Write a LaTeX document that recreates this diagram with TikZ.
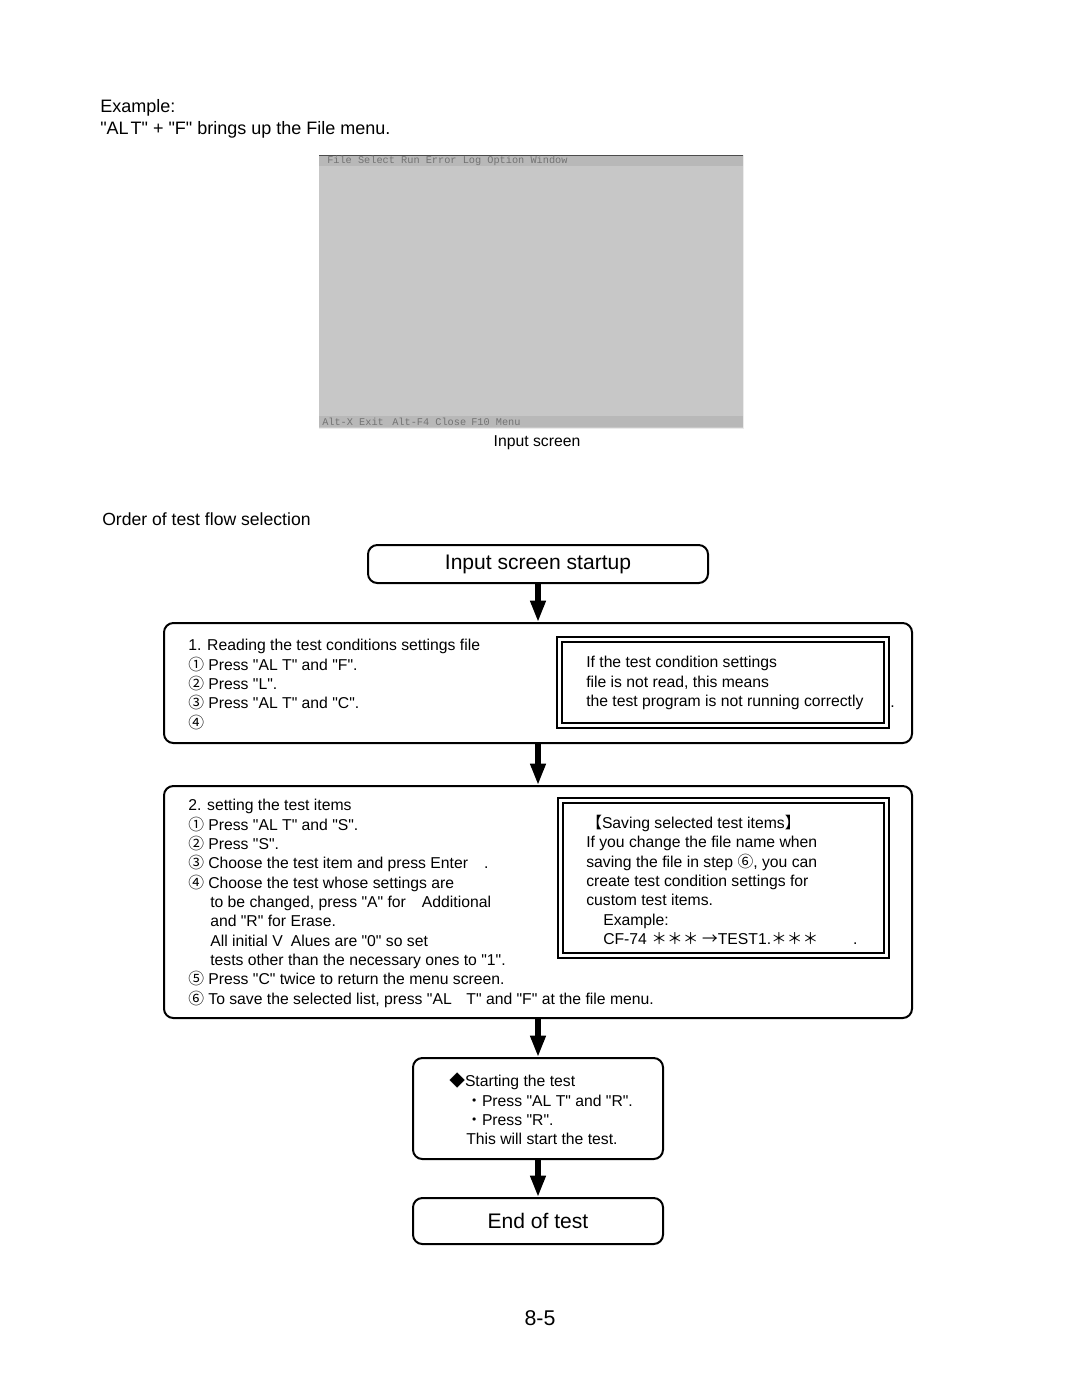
\documentclass[tikz,border=0pt]{standalone}
\usepackage{fontspec}
\setmainfont{Liberation Sans}[Ligatures=TeXOff]
\newfontfamily\cjk{Noto Sans CJK JP}
\newfontfamily\scrfont{Liberation Mono}
\usetikzlibrary{arrows.meta,positioning}
\newcommand{\bodyfont}{\fontsize{11.8}{14.5}\selectfont}
\newcommand{\ci}[1]{{\cjk #1}}
\tikzset{>=Stealth,px/.style={x=0.75pt,y=-0.75pt},
stepbox/.style={draw,line width=1.5pt,rounded corners=7pt,inner sep=0pt,font=\fontsize{15.8}{18}\selectfont},
txt/.style={font=\bodyfont,align=left,inner sep=0pt,anchor=north west},
flow/.style={line width=3.8pt,-{Triangle[width=11pt,length=16pt]}},
dbl/.style={line width=1.3pt},
menu/.style={font=\scrfont\fontsize{7.7}{8}\selectfont,text=black!55,inner sep=0pt,anchor=west}}

\begin{document}
\begin{tikzpicture}[px]
\useasboundingbox (0,0) rectangle (1080,1397);
\node[txt,font=\fontsize{13.5}{16.5}\selectfont] (extxt) at (100,99) {Example:\\"AL\kern1.5pt T" + "F" brings up the File menu.};
% input screen
\fill[black!22] (319,155) rectangle (743,428);\fill[black!28] (319,156) rectangle (743,166);\fill[black!28] (319,416) rectangle (743,427);
\draw[black!70,line width=1pt] (319,155.5)--(743,155.5);\draw[black!8,line width=.5pt] (743,155)--(743,428)--(319,428);
\node[menu] (mfile) at (327,161) {File Select Run Error Log Option Window};
\node[menu] (mexit) at (322,422) {Alt-X Exit};\node[menu] (mclose) at (392,422) {Alt-F4 Close};\node[menu] (mmenu) at (471,422) {F10 Menu};
\node[font=\bodyfont,inner sep=0pt] (capscreen) at (537,443) {Input screen};
\node[font=\fontsize{13.2}{16}\selectfont,inner sep=0pt,anchor=west] (ordertxt) at (102,519) {Order of test flow selection};
% flow boxes
\node[stepbox,minimum width=255pt,minimum height=28.5pt] (startup) at (538,564) {Input screen startup};
\node[stepbox,minimum width=561pt,minimum height=90pt] (read) at (538,683) {};
\node[stepbox,minimum width=561pt,minimum height=174pt] (items) at (538,902) {};
\node[stepbox,minimum width=187.5pt,minimum height=75.75pt] (run) at (538,1108.5) {};
\node[stepbox,minimum width=187.5pt,minimum height=34.5pt] (endtest) at (538,1221) {End of test};
\draw[flow] (startup.south)--(read.north);\draw[flow] (read.south)--(items.north);
\draw[flow] (items.south)--(run.north);\draw[flow] (run.south)--(endtest.north);
% step 1
\node[txt] (readtxt) at (188,639) {1. Reading the test conditions settings file\\\ci{①} Press "AL T" and "F".\\\ci{②} Press "L".\\\ci{③} Press "AL T" and "C".\\\ci{④}};
\draw[dbl] (557,637) rectangle (889,728);\draw[dbl] (562,642) rectangle (884,723);
\node[txt] (readnote) at (586,656) {If the test condition settings\\file is not read, this means\\the test program is not running correctly};
\node[font=\bodyfont,inner sep=0pt,anchor=base west] (readdot) at (890,707) {.};
% step 2
\node[txt] (itemtxt) at (188,799) {2. setting the test items\\\ci{①} Press "AL T" and "S".\\\ci{②} Press "S".\\
\ci{③} Choose the test item and press Enter\hspace*{12pt}.\\\ci{④} Choose the test whose settings are\\
\hspace*{16.5pt}to be changed, press "A" for\hspace*{12pt}Additional\\\hspace*{16.5pt}and "R" for Erase.\\
\hspace*{16.5pt}All initial V\hspace*{6pt}Alues are "0" so set\\\hspace*{16.5pt}tests other than the necessary ones to "1".\\
\ci{⑤} Press "C" twice to return the menu screen.\\\ci{⑥} To save the selected list, press "AL\hspace*{11pt}T" and "F" at the file menu.};
\draw[dbl] (558,798) rectangle (889,958);\draw[dbl] (563,803) rectangle (884,953);
\node[txt] (itemnote) at (586,815) {\ci{【}Saving selected test items\ci{】}\\If you change the file name when\\saving the file in step \ci{⑥}, you can\\
create test condition settings for\\custom test items.\\\hspace*{12.75pt}Example:\\\hspace*{12.75pt}CF-74 \ci{＊＊＊ →}TEST1.\ci{＊＊＊}\hspace*{26pt}.};
% step 3
\node[txt] (runtxt) at (449,1073) {\ci{◆}Starting the test\\\hspace*{12.75pt}\ci{・}Press "AL T" and "R".\\\hspace*{12.75pt}\ci{・}Press "R".\\\hspace*{12.75pt}This will start the test.};
\node[font=\fontsize{16}{18}\selectfont,inner sep=0pt] (pageno) at (540,1318) {8-5};
\end{tikzpicture}
\end{document}
